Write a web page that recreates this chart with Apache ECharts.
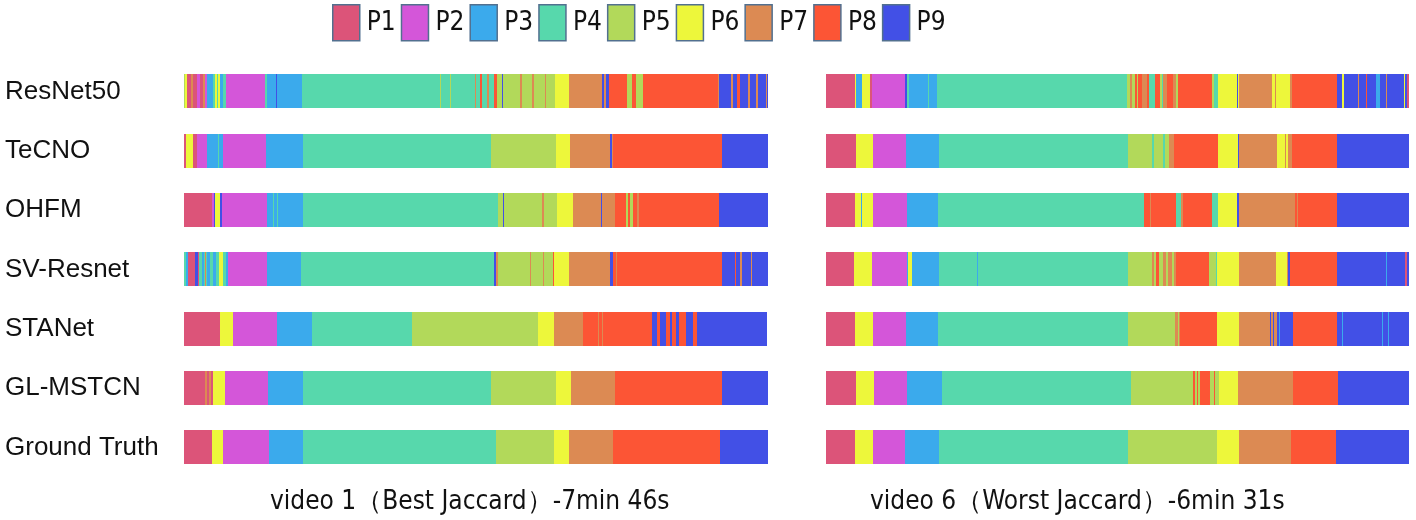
<!DOCTYPE html>
<html><head><meta charset="utf-8">
<script src="https://cdn.jsdelivr.net/npm/echarts@6/dist/echarts.min.js"></script>
<style>html,body{margin:0;padding:0;background:#fff}#c{width:1416px;height:520px}</style>
</head><body><div id="c"></div>
<script>
// ---------- data ----------
const phases = ['P1','P2','P3','P4','P5','P6','P7','P8','P9'];
const phaseColors = ['#DC5479','#D456D9','#3BAAEC','#57D8AC','#B2D95A','#EDF73B','#DC8A53','#FC5535','#4250E6'];
const methods = ['ResNet50','TeCNO','OHFM','SV-Resnet','STANet','GL-MSTCN','Ground Truth'];
const video1Duration = 466; // 7min 46s
const video6Duration = 391; // 6min 31s
const video1Caption = 'video 1（Best Jaccard）-7min 46s';
const video6Caption = 'video 6（Worst Jaccard）-6min 31s';

// segments: [phase number, segment end time in seconds]
const v1ResNet50 = [[5,0.8],[6,2.4],[1,5.6],[7,7.2],[1,10.4],[2,12.8],[1,15.2],[7,16.8],[2,18.4],[3,23.1],[4,24.7],[6,26.3],[4,27.1],[6,28.7],[3,31.1],[4,33.5],[2,64.6],[4,66.2],[3,73.4],[9,74.2],[3,94.2],[4,204.3],[5,205.1],[4,212.3],[5,213.1],[4,232.2],[7,233],[4,236.2],[8,237.8],[4,241.8],[7,243.4],[4,247.4],[8,249.8],[5,253.8],[9,254.6],[5,268.1],[7,269.7],[5,277.7],[7,279.3],[5,288.1],[7,288.9],[5,296.1],[6,307.2],[7,333.6],[9,335.2],[7,336.8],[9,339.2],[8,353.5],[5,357.5],[8,360.7],[5,366.3],[8,426.1],[7,426.9],[9,436.5],[7,438.1],[9,441.3],[8,443.7],[9,450.1],[7,451.7],[9,456.5],[7,458.1],[9,464.4],[7,465.2],[9,466]];
const v1TeCNO = [[1,1.6],[6,7.2],[1,10.4],[2,18.4],[3,27.1],[4,27.9],[3,31.1],[2,65.4],[3,95],[4,245],[5,296.9],[6,308],[7,340],[9,341.5],[7,342.3],[8,429.3],[9,466]];
const v1OHFM = [[1,22.3],[2,23.9],[9,24.7],[6,28.7],[9,30.3],[2,66.2],[3,71],[4,71.8],[3,74.2],[4,75],[3,95],[4,250.6],[5,254.6],[9,255.4],[5,285.7],[7,287.3],[5,297.7],[6,310.4],[7,332.8],[9,333.6],[7,344],[8,352.8],[5,354.3],[8,355.9],[5,358.3],[8,361.5],[7,363.1],[8,426.9],[9,466]];
const v1SVResnet = [[4,1.6],[3,3.2],[1,8.8],[9,11.2],[1,12],[4,14.4],[3,16],[4,16.8],[7,17.6],[4,18.4],[3,20.7],[4,23.1],[3,25.5],[4,27.9],[6,31.1],[4,33.5],[3,35.1],[2,66.2],[3,93.4],[4,247.4],[9,249],[7,250.6],[5,276.1],[7,276.9],[5,286.5],[7,287.3],[5,294.5],[8,295.3],[6,307.2],[7,340],[9,342.3],[8,344.7],[7,345.5],[8,429.3],[9,439.6],[8,440.4],[9,443.6],[7,445.2],[9,452.5],[7,453.3],[9,466]];
const v1STANet = [[1,28.7],[6,39.1],[2,74.2],[3,102.1],[4,181.9],[5,282.5],[6,295.3],[7,318.4],[8,330.4],[7,331.2],[8,333.6],[7,334.4],[8,373.5],[9,377.5],[8,379.8],[9,384.6],[8,387.8],[9,389.4],[8,392.6],[9,395],[8,400.6],[9,406.2],[8,409.4],[9,465.2]];
const v1GLMSTCN = [[1,16.8],[7,18.4],[1,20],[7,21.5],[1,23.1],[6,32.7],[2,67],[3,95],[4,245],[5,296.9],[6,308.8],[7,343.9],[8,429.3],[9,466]];
const v1GroundTruth = [[1,22.3],[6,31.1],[2,67.8],[3,95],[4,249],[5,295.3],[6,307.2],[7,342.3],[8,427.7],[9,466]];

const v6ResNet50 = [[1,19.5],[6,20.1],[3,24.1],[6,29.5],[1,30.9],[2,53],[9,54.3],[4,55.7],[3,68.4],[4,69.1],[3,74.4],[4,201.9],[5,203.9],[7,205.2],[5,207.3],[8,208.6],[5,209.3],[8,211.9],[7,215.3],[8,216.6],[4,220.7],[8,224],[5,225.4],[4,226],[7,228.7],[8,232.7],[7,234.7],[5,236.1],[8,258.9],[5,260.2],[4,262.9],[6,275.7],[9,276.4],[6,277],[7,299.1],[6,301.1],[7,301.8],[6,311.2],[7,312.5],[8,342.7],[9,346.1],[6,347.4],[9,356.8],[7,357.5],[9,362.2],[8,362.8],[9,368.9],[3,371.6],[9,375.6],[7,376.3],[9,387.7],[6,388.4],[9,389.7],[1,391]];
const v6TeCNO = [[1,20.1],[6,31.5],[2,53.7],[3,75.8],[4,202.5],[5,218.6],[4,219.9],[5,225.9],[4,227.3],[5,230],[7,233.4],[8,262.9],[6,276.4],[9,277],[7,302.5],[6,307.9],[7,308.5],[6,309.9],[7,312.5],[8,342.7],[9,391]];
const v6OHFM = [[1,19.5],[6,23.5],[3,24.1],[6,31.5],[2,54.3],[3,75.1],[4,213.3],[8,217.3],[7,218],[8,234.7],[4,238.1],[7,239.4],[8,258.9],[4,262.9],[6,275.7],[9,277],[7,314.6],[8,316],[7,316.7],[8,342.7],[9,391]];
const v6SVResnet = [[1,18.8],[6,30.9],[2,54.3],[3,55],[6,57.7],[3,75.8],[4,101.3],[3,101.9],[4,202.5],[5,218.6],[7,219.9],[5,221.3],[8,223.3],[5,226],[7,228],[5,229.3],[7,232],[5,233.4],[7,234.7],[8,256.9],[5,261.6],[4,262.3],[6,277],[7,301.8],[6,309.2],[7,309.9],[9,311.2],[8,342.7],[9,375.6],[3,376.3],[9,388.4],[1,389.7],[9,391]];
const v6STANet = [[1,19.5],[6,31.5],[2,53.7],[3,75.1],[4,202.5],[5,234],[7,236.1],[5,236.7],[7,237.4],[8,262.3],[6,277],[7,298],[9,298.6],[7,300],[9,300.6],[7,302.5],[9,303.9],[3,304.5],[9,313.2],[8,342.7],[9,346.1],[3,346.8],[9,372.9],[3,373.6],[9,376.9],[3,377.6],[9,391]];
const v6GLMSTCN = [[1,20.1],[6,32.2],[2,54.3],[3,77.8],[4,204.6],[5,246.1],[8,247.5],[5,248.8],[8,249.5],[5,250.8],[8,257.5],[5,260.2],[8,260.9],[5,263.6],[6,276.4],[7,313.2],[8,343.4],[9,391]];
const v6GroundTruth = [[1,19.5],[6,31.5],[2,53],[3,75.8],[4,202.5],[5,262.3],[6,277],[7,311.9],[8,342.1],[9,391]];

const video1Rows = [v1ResNet50, v1TeCNO, v1OHFM, v1SVResnet, v1STANet, v1GLMSTCN, v1GroundTruth];
const video6Rows = [v6ResNet50, v6TeCNO, v6OHFM, v6SVResnet, v6STANet, v6GLMSTCN, v6GroundTruth];

// ---------- chart ----------
const LABEL_FONT = "'Liberation Sans', Arial, sans-serif";
const NARROW_FONT = "'Liberation Sans Narrow', 'DejaVu Sans Condensed', 'Liberation Sans', sans-serif";

function renderItem(params, api) {
  const r = api.value(2);
  const a = api.coord([api.value(0), r]);
  const b = api.coord([api.value(1), r]);
  const h = api.size([0, 1])[1] * 0.58;
  const x0 = Math.round(a[0]), x1 = Math.round(b[0]);
  return {
    type: 'rect',
    shape: { x: x0, y: Math.round(a[1] - h / 2), width: Math.max(1, x1 - x0), height: Math.round(h) },
    style: { fill: api.visual('color') }
  };
}

function buildSeries(rows, panel) {
  return phases.map((name, k) => {
    const data = [];
    rows.forEach((segs, r) => {
      let start = 0;
      segs.forEach(([ph, end]) => {
        if (ph === k + 1) data.push([start, end, r]);
        start = end;
      });
    });
    return {
      type: 'custom', name, xAxisIndex: panel, yAxisIndex: panel,
      itemStyle: { color: phaseColors[k] },
      renderItem, data, encode: { x: [0, 1], y: 2 }, animation: false
    };
  });
}

const chart = echarts.init(document.getElementById('c'), null, { renderer: 'canvas' });
chart.setOption({
  backgroundColor: '#fff',
  animation: false,
  legend: {
    data: phases, left: 332, top: 4, padding: 0, itemWidth: 27, itemHeight: 36, itemGap: 5, icon: 'rect',
    itemStyle: { borderColor: '#52708f', borderWidth: 1.5 },
    textStyle: { fontSize: 26, fontFamily: NARROW_FONT, color: '#111', padding: [0, 0, 0, 2] },
    selectedMode: false
  },
  grid: [
    { left: 184, top: 62, width: 584, height: 415 },
    { left: 826, top: 62, width: 583, height: 415 }
  ],
  xAxis: [
    { type: 'value', gridIndex: 0, min: 0, max: video1Duration, show: false },
    { type: 'value', gridIndex: 1, min: 0, max: video6Duration, show: false }
  ],
  yAxis: [
    { type: 'category', gridIndex: 0, data: methods, inverse: true,
      axisLine: { show: false }, axisTick: { show: false }, splitLine: { show: false },
      axisLabel: { align: 'left', margin: 179, fontSize: 26, fontFamily: LABEL_FONT, color: '#111' } },
    { type: 'category', gridIndex: 1, data: methods, inverse: true, show: false }
  ],
  graphic: [
    { type: 'text', left: 270, top: 489, style: { text: video1Caption, fontSize: 26, fontFamily: NARROW_FONT, fill: '#111' } },
    { type: 'text', left: 870, top: 489, style: { text: video6Caption, fontSize: 26, fontFamily: NARROW_FONT, fill: '#111' } }
  ],
  series: [...buildSeries(video1Rows, 0), ...buildSeries(video6Rows, 1)]
});
</script>
</body></html>
